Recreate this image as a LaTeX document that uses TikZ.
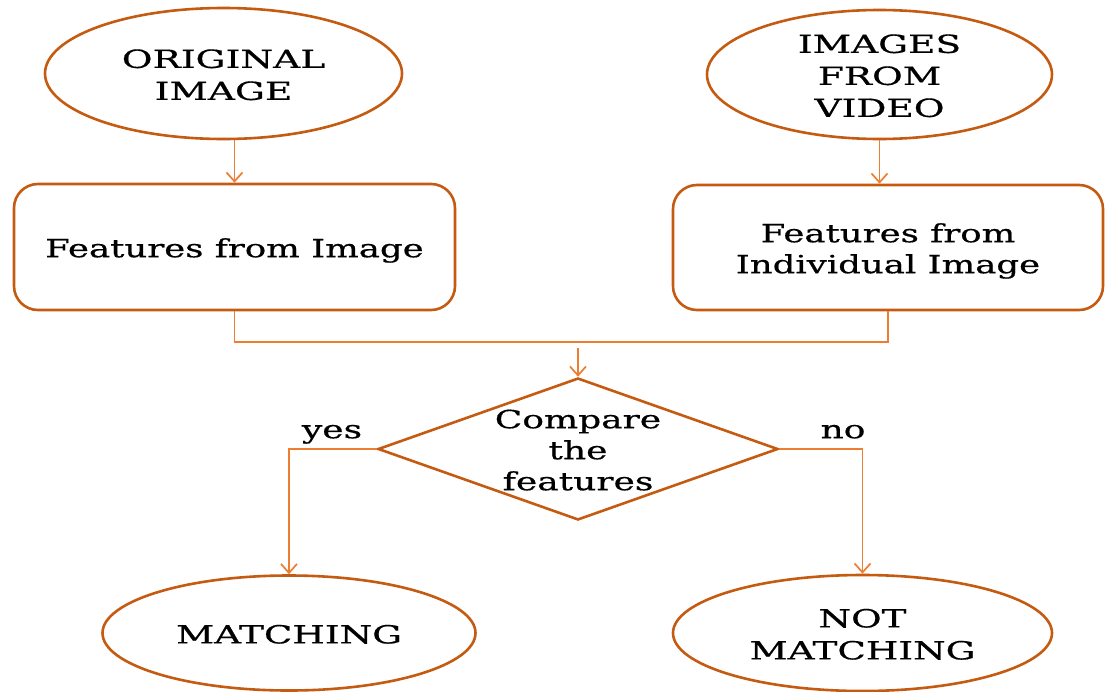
\documentclass[tikz,border=0pt]{standalone}
\usepackage{fontspec}
\setmainfont{DejaVu Serif}[FakeBold=0.5]
\usepackage{graphicx}
\usetikzlibrary{shapes.geometric,arrows.meta}
\definecolor{edgeC}{HTML}{C55A11}
\definecolor{connC}{HTML}{ED7D31}
\newcommand{\tx}[2][1.5]{\raisebox{-4pt}[\height][\depth]{\scalebox{#1}[1]{\begin{tabular}{@{}c@{}}#2\end{tabular}}}}
\begin{document}
\begin{tikzpicture}[x=1pt,y=1pt,
  term/.style={ellipse, draw=edgeC, line width=2.6pt, inner sep=0pt},
  box/.style={rectangle, rounded corners=24pt, draw=edgeC, line width=2.6pt, inner sep=0pt},
  decide/.style={diamond, draw=edgeC, line width=2.6pt, inner sep=0pt, minimum width=400pt, minimum height=142pt},
  lbl/.style={inner sep=0pt, text=black},
  conn/.style={draw=connC, line width=1.7pt},
  arr/.style={conn, -{Straight Barb[length=9pt,width=16pt]}},
  big/.style={font=\fontsize{25}{32}\selectfont},
  mid/.style={font=\fontsize{25}{31}\selectfont}]
\useasboundingbox (0,0) rectangle (1106,-691);
\node[term, minimum width=357pt, minimum height=131pt,
  label={[lbl,big]center:\tx{ORIGINAL\\IMAGE}}] (o1) at (223.5,-73.5) {};
\node[term, minimum width=345pt, minimum height=129pt,
  label={[lbl,big]center:\tx{IMAGES\\FROM\\VIDEO}}] (o2) at (879.5,-74.5) {};
\node[box, mid, minimum width=441pt, minimum height=126pt] (f1) at (234.5,-247) {\tx[1.42]{Features from Image}};
\node[box, mid, minimum width=430pt, minimum height=125pt] (f2) at (888,-247.5) {\tx[1.42]{Features from\\Individual Image}};
\coordinate (merge) at (578,-342);
\node[decide, label={[lbl,mid]center:\tx[1.44]{Compare\\the\\features}}] (dia) at (578,-449) {};
\node[lbl, mid] (yes) at (332,-428) {\tx[1.44]{yes}};
\node[lbl, mid] (no) at (843,-428) {\tx[1.44]{no}};
\node[term, minimum width=373pt, minimum height=115pt,
  label={[lbl,big]center:\tx[1.49]{MATCHING}}] (m1) at (289,-633) {};
\node[term, minimum width=379pt, minimum height=116pt,
  label={[lbl,big]center:\tx[1.49]{NOT\\MATCHING}}] (m2) at (862.5,-633) {};
\draw[arr] (f1.north |- o1.south) -- (f1.north);
\draw[arr] (o2.south) -- (o2.south |- f2.north);
\draw[conn] (f1.south) |- (merge) -| (f2.south);
\draw[arr] ([yshift=-6pt]merge) -- (dia.north);
\draw[arr] (dia.west) -| (m1.north);
\draw[arr] (dia.east) -| (m2.north);
\end{tikzpicture}
\end{document}
